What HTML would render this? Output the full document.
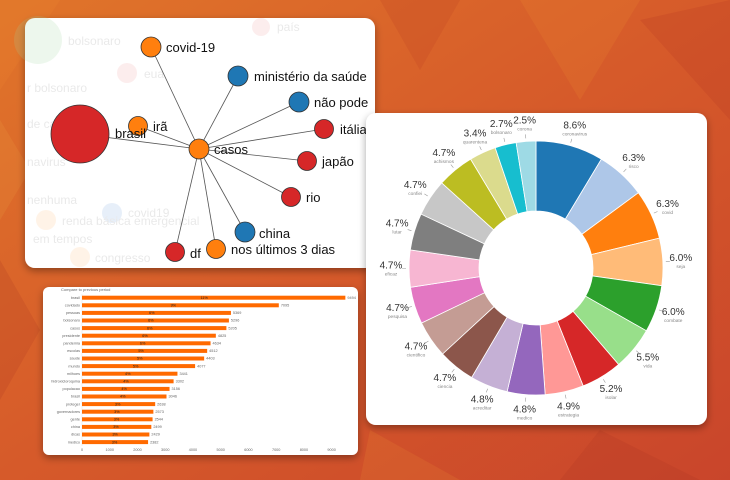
<!DOCTYPE html>
<html><head><meta charset="utf-8"><style>
html,body{margin:0;padding:0;width:730px;height:480px;overflow:hidden;background:#d2602a}
svg{display:block;font-family:"Liberation Sans",sans-serif}
</style></head><body>
<svg width="730" height="480" viewBox="0 0 730 480">
<defs>
<linearGradient id="bg" x1="0" y1="0" x2="1" y2="1">
<stop offset="0" stop-color="#e0752a"/><stop offset="0.5" stop-color="#d65a2a"/><stop offset="1" stop-color="#c9452b"/>
</linearGradient>
<filter id="sh" x="-10%" y="-10%" width="120%" height="130%"><feDropShadow dx="0" dy="3" stdDeviation="4" flood-color="#000" flood-opacity="0.35"/></filter>
</defs>
<rect width="730" height="480" fill="url(#bg)"/>
<g opacity="0.18">
<polygon points="0,0 60,0 0,90" fill="#f08a30"/>
<polygon points="380,0 460,0 420,70" fill="#b83a20"/>
<polygon points="520,0 640,0 580,100" fill="#f09030"/>
<polygon points="640,20 730,0 730,120" fill="#b03020"/>
<polygon points="0,260 40,330 0,400" fill="#a83020"/>
<polygon points="370,430 460,480 360,480" fill="#f09030"/>
<polygon points="600,430 700,480 560,480" fill="#a83020"/>
<polygon points="0,120 30,170 0,220" fill="#f0a040"/>
</g>

<g filter="url(#sh)"><rect x="25" y="18" width="350" height="250" rx="10" fill="#fff"/></g>
<g opacity="0.18" font-size="12" fill="#888">
<circle cx="38" cy="40" r="24" fill="#9fd79f"/>
<circle cx="127" cy="73" r="10" fill="#f0a0a0"/>
<circle cx="261" cy="27" r="9" fill="#f0a0a0"/>
<circle cx="112" cy="213" r="10" fill="#7fa8e0"/>
<circle cx="46" cy="220" r="10" fill="#ffc080"/>
<circle cx="80" cy="257" r="10" fill="#ffc080"/>
<text x="68" y="45">bolsonaro</text><text x="144" y="78">eua</text><text x="277" y="31">país</text>
<text x="27" y="92">r bolsonaro</text><text x="27" y="128">de carvalho</text><text x="27" y="166">navirus</text>
<text x="27" y="204">nenhuma</text><text x="62" y="225">renda básica emergencial</text><text x="33" y="243">em tempos</text>
<text x="95" y="262">congresso</text><text x="128" y="217">covid19</text>
</g>
<g stroke="#555" stroke-width="0.8">
<line x1="199" y1="149" x2="80" y2="134"/><line x1="199" y1="149" x2="138" y2="126"/>
<line x1="199" y1="149" x2="151" y2="47"/><line x1="199" y1="149" x2="238" y2="76"/>
<line x1="199" y1="149" x2="299" y2="102"/><line x1="199" y1="149" x2="324" y2="129"/>
<line x1="199" y1="149" x2="307" y2="161"/><line x1="199" y1="149" x2="291" y2="197"/>
<line x1="199" y1="149" x2="245" y2="232"/><line x1="199" y1="149" x2="216" y2="249"/>
<line x1="199" y1="149" x2="175" y2="252"/>
</g>
<g stroke="#333" stroke-width="0.8">
<circle cx="80" cy="134" r="29" fill="#d62728"/>
<circle cx="138" cy="126" r="9.5" fill="#ff7f0e"/>
<circle cx="151" cy="47" r="10" fill="#ff7f0e"/>
<circle cx="238" cy="76" r="10" fill="#1f77b4"/>
<circle cx="299" cy="102" r="10" fill="#1f77b4"/>
<circle cx="324" cy="129" r="9.5" fill="#d62728"/>
<circle cx="307" cy="161" r="9.5" fill="#d62728"/>
<circle cx="291" cy="197" r="9.5" fill="#d62728"/>
<circle cx="245" cy="232" r="10" fill="#1f77b4"/>
<circle cx="216" cy="249" r="9.5" fill="#ff7f0e"/>
<circle cx="175" cy="252" r="9.5" fill="#d62728"/>
<circle cx="199" cy="149" r="10" fill="#ff7f0e"/>
</g>
<g font-size="13" fill="#111">
<text x="115" y="138">brasil</text><text x="153" y="131">irã</text><text x="166" y="52">covid-19</text>
<text x="254" y="81">ministério da saúde</text><text x="314" y="107">não pode</text><text x="340" y="134">itália</text>
<text x="322" y="166">japão</text><text x="306" y="202">rio</text><text x="259" y="238">china</text>
<text x="231" y="254">nos últimos 3 dias</text><text x="190" y="258">df</text><text x="214" y="154">casos</text>
</g>

<g filter="url(#sh)"><rect x="43" y="287" width="315" height="168" rx="6" fill="#fff"/></g>
<text x="61" y="291" font-size="4" fill="#666">Compare to previous period</text>
<line x1="82" y1="294" x2="82" y2="446" stroke="#ddd" stroke-width="0.4"/>
<g id="bars" font-size="3.8" fill="#666"></g>

<g filter="url(#sh)"><rect x="366" y="113" width="341" height="312" rx="10" fill="#fff"/></g>
<g id="donut"></g>
<g id="dl" fill="#333"></g>
</svg>
<script>
var NS="http://www.w3.org/2000/svg";
function el(t,a,p,txt){var e=document.createElementNS(NS,t);for(var k in a)e.setAttribute(k,a[k]);if(txt!=null)e.textContent=txt;p.appendChild(e);return e;}
var bars=document.getElementById('bars');
var names=["brasil","covidado","pessoas","bolsonaro","casos","presidente","pandemia","escolas","saude","mundo","milhoes","hidroxicloroquina","populacao","brasil","proteger","governadores","gente","china","dicas","medico"];
var vals=[9494,7095,5369,5296,5205,4825,4634,4512,4403,4077,3441,3302,3156,3046,2638,2573,2544,2499,2429,2382];
var pct=["11%","9%","6%","6%","6%","6%","6%","5%","5%","5%","4%","4%","4%","4%","3%","3%","3%","3%","3%","3%"];
var s=0.02774;
for(var i=0;i<20;i++){var y=297.7+i*7.6;var w=vals[i]*s;
el('rect',{x:82,y:y-2,width:w,height:4,fill:'#ff6a00'},bars);
el('text',{x:80,y:y+1.2,'text-anchor':'end'},bars,names[i]);
el('text',{x:84+w,y:y+1.2},bars,String(vals[i]));
el('text',{x:82+w*0.45,y:y+1.2,fill:'#222'},bars,pct[i]);}
for(var t=0;t<=9;t++){el('text',{x:82+t*1000*s,y:451,'text-anchor':'middle'},bars,String(t*1000));}
var d=document.getElementById('donut'),dl=document.getElementById('dl');
var L=["coronavirus","risco","covid","seja","combate","vida","isolar","estrategia","medico","acreditar","ciencia","cientifico","pesquisa","eficaz","lutar","confiei","achismos","quarentena","bolsonaro","corona"];
var P=[8.6,6.3,6.3,6.0,6.0,5.5,5.2,4.9,4.8,4.8,4.7,4.7,4.7,4.7,4.7,4.7,4.7,3.4,2.7,2.5];
var C=["#1f77b4","#aec7e8","#ff7f0e","#ffbb78","#2ca02c","#98df8a","#d62728","#ff9896","#9467bd","#c5b0d5","#8c564b","#c49c94","#e377c2","#f7b6d2","#7f7f7f","#c7c7c7","#bcbd22","#dbdb8d","#17becf","#9edae5"];
var tot=P.reduce(function(a,b){return a+b},0);
var cx=536,cy=268,R=127,r=57,a=0;
function pt(rad,ang){return [cx+rad*Math.sin(ang),cy-rad*Math.cos(ang)];}
for(var i=0;i<20;i++){var a0=a,a1=a+P[i]/tot*2*Math.PI;a=a1;
var p1=pt(R,a0),p2=pt(R,a1),p3=pt(r,a1),p4=pt(r,a0),lg=(a1-a0)>Math.PI?1:0;
el('path',{d:'M'+p1+'A'+R+','+R+' 0 '+lg+' 1 '+p2+'L'+p3+'A'+r+','+r+' 0 '+lg+' 0 '+p4+'Z',fill:C[i],stroke:'#fff','stroke-width':0.8},d);
var m=(a0+a1)/2,q=pt(R+3,m),q2=pt(R+7,m),lp=pt(R+18,m);
el('line',{x1:q[0],y1:q[1],x2:q2[0],y2:q2[1],stroke:'#999','stroke-width':0.6},dl);
el('text',{x:lp[0],y:lp[1],'text-anchor':'middle','font-size':'10'},dl,P[i].toFixed(1)+'%');
el('text',{x:lp[0],y:lp[1]+7,'text-anchor':'middle','font-size':'4.8',fill:'#888'},dl,L[i]);}
</script>
</body></html>
